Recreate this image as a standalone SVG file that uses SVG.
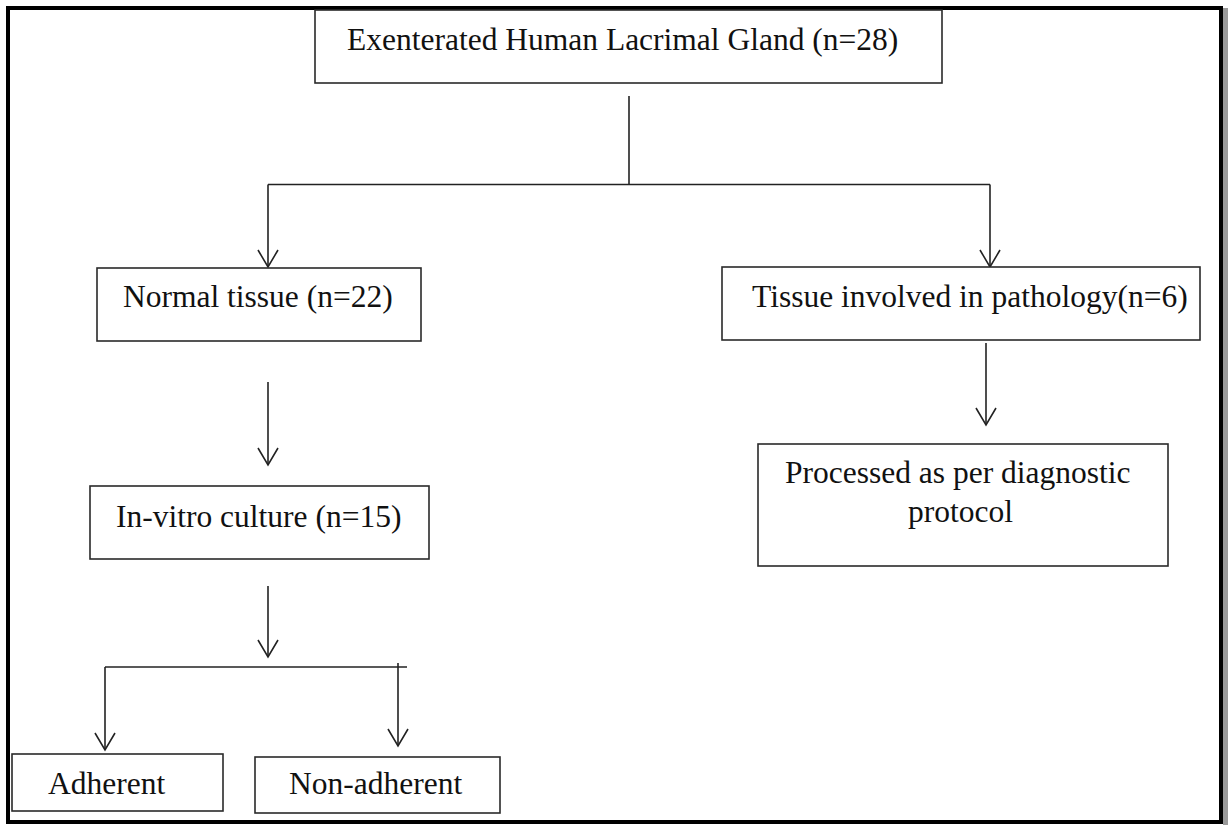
<svg xmlns="http://www.w3.org/2000/svg" width="1228" height="825" viewBox="0 0 1228 825">
  <style>
    .box { fill: #ffffff; stroke: #2a2a2a; stroke-width: 1.6; }
    .lbl { font-family: "Liberation Serif", "Times New Roman", serif; font-size: 31.5px; fill: #111111; }
    .wire { fill: none; stroke: #222222; stroke-width: 1.6; }
  </style>
  <defs>
    <marker id="vee" markerUnits="userSpaceOnUse" orient="auto" refX="0" refY="0" markerWidth="24" markerHeight="24" viewBox="-20 -12 22 24" overflow="visible">
      <path d="M-17,-10 L0,0 L-17,10" fill="none" stroke="#222222" stroke-width="1.6"/>
    </marker>
  </defs>

  <!-- page background and outer frame -->
  <rect x="0" y="0" width="1228" height="825" fill="#ffffff"/>
  <rect x="1223" y="8" width="5" height="817" fill="#9a9a9a"/>
  <rect x="8" y="8" width="1213" height="814" fill="none" stroke="#000000" stroke-width="4"/>

  <g id="connectors">
    <path class="wire" d="M629,96 V185"/>
    <path class="wire" d="M268,184.5 H990"/>
    <path class="wire" d="M268,184.5 V267" marker-end="url(#vee)"/>
    <path class="wire" d="M990,184.5 V267" marker-end="url(#vee)"/>
    <path class="wire" d="M268,382 V465" marker-end="url(#vee)"/>
    <path class="wire" d="M986,343 V425" marker-end="url(#vee)"/>
    <path class="wire" d="M268,586 V657" marker-end="url(#vee)"/>
    <path class="wire" d="M105,667 H407"/>
    <path class="wire" d="M105,667 V750" marker-end="url(#vee)"/>
    <path class="wire" d="M398,663 V746" marker-end="url(#vee)"/>
  </g>

  <g id="gland">
    <rect class="box" x="315" y="10" width="627" height="73"/>
    <text class="lbl" x="347" y="50">Exenterated Human Lacrimal Gland (n=28)</text>
  </g>

  <g id="normal">
    <rect class="box" x="97" y="268" width="324" height="73"/>
    <text class="lbl" x="123" y="307">Normal tissue (n=22)</text>
  </g>

  <g id="pathology">
    <rect class="box" x="722" y="267" width="478" height="73"/>
    <text class="lbl" x="752" y="307">Tissue involved in pathology(n=6)</text>
  </g>

  <g id="invitro">
    <rect class="box" x="90" y="486" width="339" height="73"/>
    <text class="lbl" x="116" y="527">In-vitro culture (n=15)</text>
  </g>

  <g id="diagnostic">
    <rect class="box" x="758" y="444" width="410" height="122"/>
    <text class="lbl" x="785" y="483">Processed as per diagnostic</text>
    <text class="lbl" x="908" y="522">protocol</text>
  </g>

  <g id="adherent">
    <rect class="box" x="12" y="754" width="211" height="57"/>
    <text class="lbl" x="48" y="794">Adherent</text>
  </g>

  <g id="nonadherent">
    <rect class="box" x="255" y="757" width="245" height="56"/>
    <text class="lbl" x="289" y="794">Non-adherent</text>
  </g>
</svg>
